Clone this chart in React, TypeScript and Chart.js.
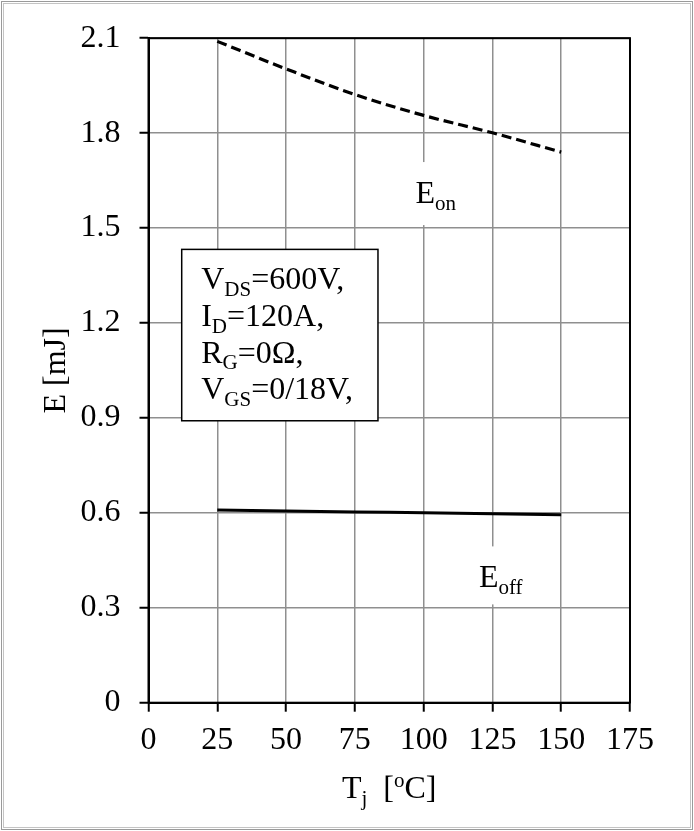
import { useEffect, useRef } from "react";
import { Chart, registerables } from "chart.js";

Chart.register(...registerables);

// Junction temperature (°C) at which the switching energies were measured
const temperatures = [25, 50, 75, 100, 125, 150];
// Turn-on energy (mJ)
const eOnValues = [2.09, 2.003, 1.922, 1.856, 1.801, 1.74];
// Turn-off energy (mJ)
const eOffValues = [0.609, 0.606, 0.603, 0.6, 0.597, 0.594];

const xTickValues = [0, 25, 50, 75, 100, 125, 150, 175];
const yTickValues = [0, 0.3, 0.6, 0.9, 1.2, 1.5, 1.8, 2.1];

// Test conditions shown in the boxed note: symbol, subscript, remainder
const conditionLines = [
  ["V", "DS", "=600V,"],
  ["I", "D", "=120A,"],
  ["R", "G", "=0Ω,"],
  ["V", "GS", "=0/18V,"],
];

const SERIF = '"Liberation Serif", "Times New Roman", serif';
const BIG = 32;
const SMALL = 21;

type Part = { text: string; size: number; dy: number };

function partsWidth(ctx: CanvasRenderingContext2D, parts: Part[]) {
  let w = 0;
  for (const p of parts) {
    ctx.font = `${p.size}px ${SERIF}`;
    w += ctx.measureText(p.text).width;
  }
  return w;
}

function drawParts(ctx: CanvasRenderingContext2D, x: number, baseline: number, parts: Part[]) {
  ctx.save();
  ctx.fillStyle = "#000";
  ctx.textAlign = "left";
  ctx.textBaseline = "alphabetic";
  let cx = x;
  for (const p of parts) {
    ctx.font = `${p.size}px ${SERIF}`;
    ctx.fillText(p.text, cx, baseline + p.dy);
    cx += ctx.measureText(p.text).width;
  }
  ctx.restore();
  return cx - x;
}

const sub = (t: string): Part => ({ text: t, size: SMALL, dy: 6.6 });
const big = (t: string): Part => ({ text: t, size: BIG, dy: 0 });
const sup = (t: string): Part => ({ text: t, size: SMALL, dy: -11 });

const decorations = {
  id: "decorations",
  beforeDraw(chart: Chart) {
    const { ctx, width, height } = chart;
    ctx.save();
    ctx.fillStyle = "#fff";
    ctx.fillRect(0, 0, width, height);
    ctx.restore();
  },
  beforeDatasetsDraw(chart: Chart) {
    const ctx = chart.ctx;
    const xs = chart.scales.x;
    const ys = chart.scales.y;

    // curve names, each on a white patch: x, baseline, patch above / below baseline
    const labels: [number, number, number, number, Part[]][] = [
      [97, 1.579, 41, 22, [big("E"), sub("on")]],
      [120.1, 0.3644, 41, 17, [big("E"), sub("off")]],
    ];
    for (const [vx, vy, up, down, parts] of labels) {
      const x = xs.getPixelForValue(vx);
      const b = ys.getPixelForValue(vy);
      const w = partsWidth(ctx, parts);
      ctx.save();
      ctx.fillStyle = "#fff";
      ctx.fillRect(x - 6, b - up, w + 12, up + down);
      ctx.restore();
      drawParts(ctx, x, b, parts);
    }

    // boxed test conditions
    const left = xs.getPixelForValue(12.07);
    const right = xs.getPixelForValue(83.4);
    const top = ys.getPixelForValue(1.4326);
    const bottom = ys.getPixelForValue(0.891);
    ctx.save();
    ctx.fillStyle = "#fff";
    ctx.fillRect(left, top, right - left, bottom - top);
    ctx.strokeStyle = "#000";
    ctx.lineWidth = 1.5;
    ctx.strokeRect(left, top, right - left, bottom - top);
    ctx.restore();
    const textX = xs.getPixelForValue(19.15);
    conditionLines.forEach(([s, sb, rest], i) => {
      drawParts(ctx, textX, top + 40 + i * 36.7, [big(s), sub(sb), big(rest)]);
    });
  },
  afterDraw(chart: Chart) {
    const ctx = chart.ctx;
    const a = chart.chartArea;
    ctx.save();
    ctx.strokeStyle = "#000";
    ctx.lineWidth = 2;
    ctx.strokeRect(a.left, a.top, a.right - a.left, a.bottom - a.top);

    // outer frame
    ctx.lineWidth = 1;
    ctx.strokeStyle = "#9a9a9a";
    ctx.strokeRect(1.5, 1.5, chart.width - 3, chart.height - 3);
    ctx.strokeStyle = "#c4c4c4";
    ctx.strokeRect(3.5, 3.5, chart.width - 7, chart.height - 7);
    ctx.restore();

    // x-axis title with subscript and superscript
    const parts = [big("T"), sub("j"), big("  ["), sup("o"), big("C]")];
    const w = partsWidth(ctx, parts);
    const cx = (a.left + a.right) / 2;
    drawParts(ctx, cx - w / 2, 798, parts);
  },
};

export default function App() {
  const ref = useRef<HTMLCanvasElement | null>(null);

  useEffect(() => {
    document.body.style.margin = "0";
    const canvas = ref.current;
    if (!canvas) return;
    const chart = new Chart(canvas, {
      type: "line",
      data: {
        datasets: [
          {
            label: "Eon",
            data: temperatures.map((t, i) => ({ x: t, y: eOnValues[i] })),
            borderColor: "#000",
            borderWidth: 3.2,
            borderDash: [10, 5],
            pointRadius: 0,
            cubicInterpolationMode: "monotone",
            fill: false,
          },
          {
            label: "Eoff",
            data: temperatures.map((t, i) => ({ x: t, y: eOffValues[i] })),
            borderColor: "#000",
            borderWidth: 3,
            pointRadius: 0,
            cubicInterpolationMode: "monotone",
            fill: false,
          },
        ],
      },
      options: {
        responsive: false,
        animation: false,
        devicePixelRatio: 1,
        layout: { padding: { left: 0, right: 64, top: 34, bottom: 0 } },
        plugins: {
          legend: { display: false },
          tooltip: { enabled: false },
        },
        scales: {
          x: {
            type: "linear",
            min: 0,
            max: 175,
            afterBuildTicks: (s: any) => {
              s.ticks = xTickValues.map((v) => ({ value: v }));
            },
            afterFit: (s: any) => {
              s.height = 128.3;
            },
            ticks: {
              color: "#000",
              font: { family: SERIF, size: BIG },
              padding: 10,
              maxRotation: 0,
              autoSkip: false,
              callback: (v: any) => String(v),
            },
            grid: {
              color: "#8f8f8f",
              lineWidth: 1.5,
              tickColor: "#000",
              tickLength: 9,
              tickWidth: 2,
            },
            border: { color: "#000", width: 2 },
            title: { display: false },
          },
          y: {
            type: "linear",
            min: 0,
            max: 2.1,
            afterBuildTicks: (s: any) => {
              s.ticks = yTickValues.map((v) => ({ value: v }));
            },
            afterFit: (s: any) => {
              s.width = 148.5;
            },
            ticks: {
              color: "#000",
              font: { family: SERIF, size: BIG },
              padding: 19,
              autoSkip: false,
              callback: (v: any) => (Number(v) === 0 ? "0" : Number(v).toFixed(1)),
            },
            grid: {
              color: "#8f8f8f",
              lineWidth: 1.5,
              tickColor: "#000",
              tickLength: 9,
              tickWidth: 2,
            },
            border: { color: "#000", width: 2 },
            title: {
              display: true,
              text: "E [mJ]",
              color: "#000",
              font: { family: SERIF, size: BIG, lineHeight: 1 },
              padding: { top: 41, bottom: 0 },
            },
          },
        },
      },
      plugins: [decorations],
    });
    return () => chart.destroy();
  }, []);

  return (
    <canvas
      ref={ref}
      width={694}
      height={831}
      style={{ display: "block", width: "694px", height: "831px" }}
    />
  );
}
